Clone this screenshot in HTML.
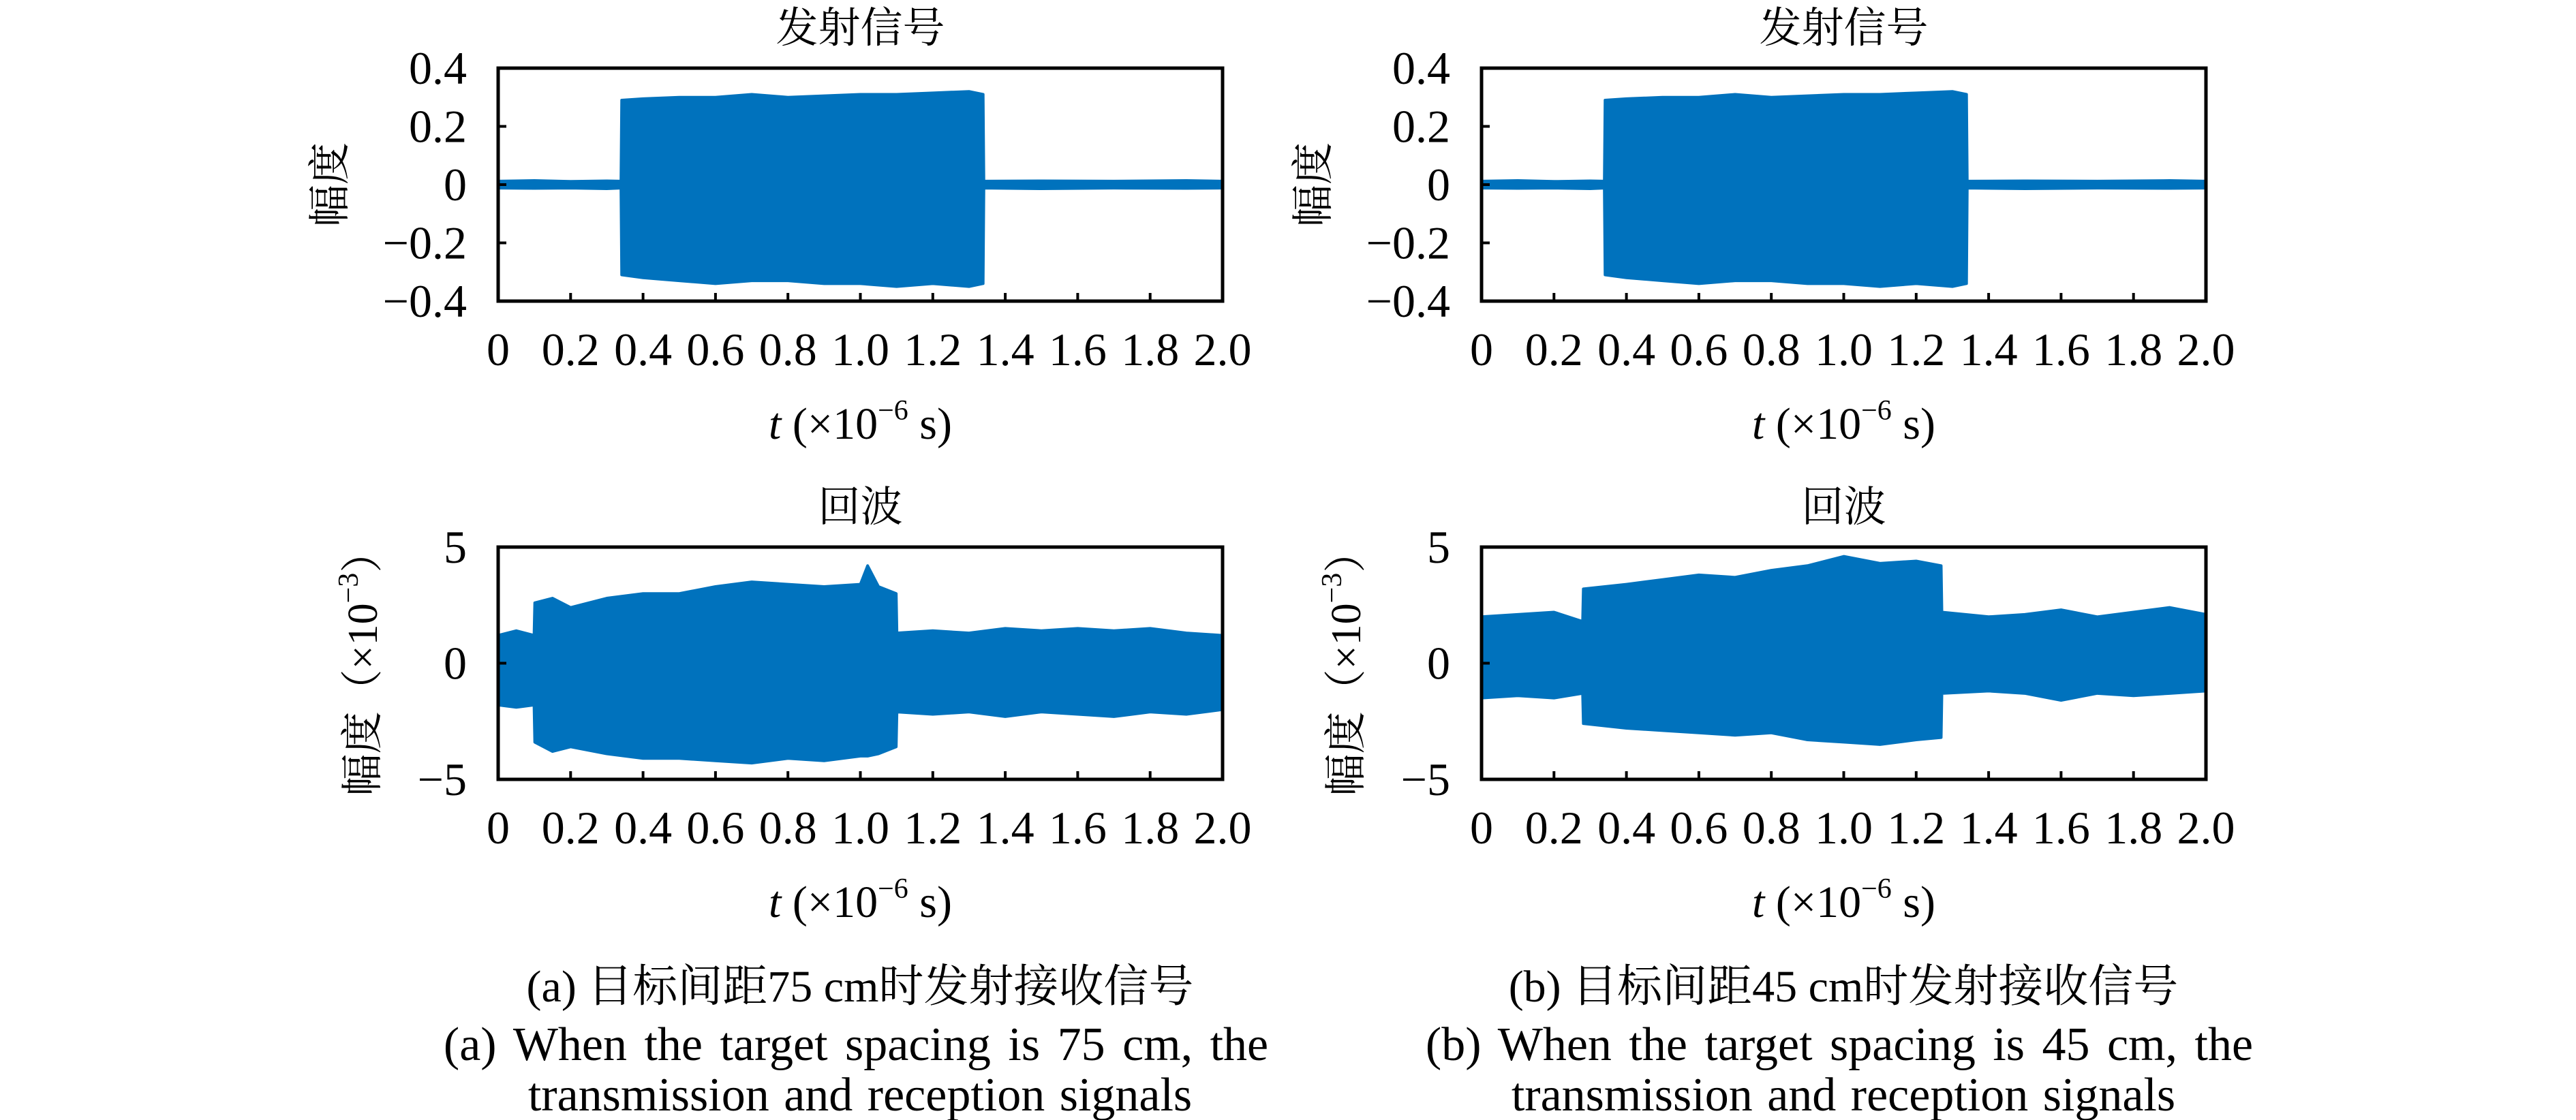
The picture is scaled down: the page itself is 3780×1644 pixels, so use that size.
<!DOCTYPE html>
<html><head><meta charset="utf-8"><style>
html,body{margin:0;padding:0;background:#fff}
svg{display:block}
text{font-family:"Liberation Serif","Noto Serif CJK SC",serif;fill:#000}
</style></head><body>
<svg id="fig" width="3780" height="1644" viewBox="0 0 3780 1644" xmlns="http://www.w3.org/2000/svg">
<text x="1262" y="1470" font-size="66" text-anchor="middle">(a) 目标间距75 cm时发射接收信号</text>
<text x="1256" y="1556" font-size="70" word-spacing="8" text-anchor="middle">(a) When the target spacing is 75 cm, the</text>
<text x="1262" y="1630" font-size="70" word-spacing="4" text-anchor="middle">transmission and reception signals</text>
<text x="2705" y="1470" font-size="66" text-anchor="middle">(b) 目标间距45 cm时发射接收信号</text>
<text x="2699" y="1556" font-size="70" word-spacing="8" text-anchor="middle">(b) When the target spacing is 45 cm, the</text>
<text x="2705" y="1630" font-size="70" word-spacing="4" text-anchor="middle">transmission and reception signals</text>
</svg>
<script>
const xTicks=[0,0.2,0.4,0.6,0.8,1.0,1.2,1.4,1.6,1.8,2.0];
const xTickLabels=["0","0.2","0.4","0.6","0.8","1.0","1.2","1.4","1.6","1.8","2.0"];
const yTicksTop=[-0.4,-0.2,0,0.2,0.4];
const yTickLabelsTop=["\u22120.4","\u22120.2","0","0.2","0.4"];
const yTicksBot=[-5,0,5];
const yTickLabelsBot=["\u22125","0","5"];

const tT=[0,0.1,0.2,0.3,0.339,0.341,0.4,0.5,0.6,0.7,0.8,0.9,1.0,1.1,1.2,1.3,1.339,1.341,1.5,1.7,1.9,2.0];
const upT=[0.012,0.014,0.011,0.013,0.012,0.29,0.295,0.30,0.30,0.31,0.30,0.305,0.31,0.31,0.315,0.32,0.31,0.012,0.013,0.012,0.014,0.012];
const loT=[-0.012,-0.013,-0.012,-0.014,-0.012,-0.31,-0.32,-0.33,-0.34,-0.33,-0.33,-0.34,-0.34,-0.35,-0.34,-0.35,-0.34,-0.012,-0.014,-0.012,-0.013,-0.012];

const tA=[0,0.05,0.099,0.101,0.15,0.2,0.3,0.4,0.5,0.6,0.7,0.8,0.9,1.0,1.02,1.05,1.099,1.101,1.2,1.3,1.4,1.5,1.6,1.7,1.8,1.9,2.0];
const upA=[1.2,1.4,1.2,2.6,2.8,2.4,2.8,3.0,3.0,3.3,3.5,3.4,3.3,3.4,4.2,3.3,3.0,1.3,1.4,1.3,1.5,1.4,1.5,1.4,1.5,1.3,1.2];
const loA=[-1.8,-1.9,-1.8,-3.4,-3.8,-3.6,-3.9,-4.1,-4.1,-4.2,-4.3,-4.1,-4.2,-4.0,-4.0,-3.9,-3.6,-2.1,-2.2,-2.1,-2.3,-2.1,-2.2,-2.3,-2.1,-2.2,-2.0];

const tB=[0,0.1,0.2,0.279,0.281,0.4,0.5,0.6,0.7,0.8,0.9,1.0,1.1,1.2,1.269,1.271,1.4,1.5,1.6,1.7,1.8,1.9,2.0];
const upB=[2.0,2.1,2.2,1.8,3.2,3.4,3.6,3.8,3.7,4.0,4.2,4.6,4.3,4.4,4.2,2.2,2.0,2.1,2.3,2.0,2.2,2.4,2.1];
const loB=[-1.5,-1.4,-1.5,-1.3,-2.6,-2.8,-2.9,-3.0,-3.1,-3.0,-3.3,-3.4,-3.5,-3.3,-3.2,-1.3,-1.2,-1.3,-1.6,-1.3,-1.4,-1.3,-1.2];

const NS="http://www.w3.org/2000/svg";
const svg=document.getElementById('fig');
function mk(tag,attrs,parent){const e=document.createElementNS(NS,tag);for(const k in attrs)e.setAttribute(k,attrs[k]);(parent||svg).appendChild(e);return e;}

function panel(p){
  const g=mk('g',{});
  
  
  const X=v=>p.x0+(v-0)/(2-0)*(p.x1-p.x0);
  const Y=v=>p.y1-(v-p.ymin)/(p.ymax-p.ymin)*(p.y1-p.y0);
  let d='M'+X(p.t[0])+','+Y(p.up[0]);
  for(let i=1;i<p.t.length;i++) d+=' L'+X(p.t[i])+','+Y(p.up[i]);
  for(let i=p.t.length-1;i>=0;i--) d+=' L'+X(p.t[i])+','+Y(p.lo[i]);
  d+=' Z';
  const s=mk('path',{d:d,fill:'#0072bd',stroke:'#0072bd','stroke-width':4,'stroke-linejoin':'round'},g);
  
  
  const f=mk('rect',{x:p.x0,y:p.y0,width:p.x1-p.x0,height:p.y1-p.y0,fill:'none',stroke:'#000','stroke-width':5},g);
  
  
  xTicks.forEach((v,i)=>{
    const tk=mk('line',{x1:X(v),x2:X(v),y1:p.y1,y2:p.y1-12,stroke:'#000','stroke-width':4},g);
    
    
    const tl=mk('text',{x:X(v),y:p.y1+94,'font-size':68,'text-anchor':'middle'},g);
    
    
    tl.textContent=xTickLabels[i];
  });
  p.yt.forEach((v,i)=>{
    const tk=mk('line',{x1:p.x0,x2:p.x0+12,y1:Y(v),y2:Y(v),stroke:'#000','stroke-width':4},g);
    
    
    const tl=mk('text',{x:p.x0-46,y:Y(v)+23,'font-size':68,'text-anchor':'end'},g);
    
    
    tl.textContent=p.ytl[i];
  });
  const cx=(p.x0+p.x1)/2;
  const ti=mk('text',{x:cx,y:p.y0-38,'font-size':62,'text-anchor':'middle'},g);
  
  
  ti.textContent=p.title;
  const xl=mk('text',{x:cx,y:p.y1+202,'font-size':66,'text-anchor':'middle'},g);
  
  
  xl.innerHTML='<tspan font-style="italic">t</tspan> (×10<tspan font-size="42" dy="-28">−6</tspan><tspan dy="28"> s)</tspan>';
  const yl=mk('text',{x:0,y:0,'font-size':62,'text-anchor':'middle',transform:'translate('+p.ylx+','+((p.y0+p.y1)/2)+') rotate(-90)'},g);
  
  
  yl.innerHTML=p.ylab;
}
const topLab='幅度';
const botLab='幅度（×10<tspan font-size="42" dy="-28">−3</tspan><tspan dy="28">）</tspan>';
panel({name:'panel-a-transmit',x0:731,x1:1794,y0:100,y1:442,ymin:-0.4,ymax:0.4,t:tT,up:upT,lo:loT,yt:yTicksTop,ytl:yTickLabelsTop,title:'发射信号',ylx:505,ylab:topLab});
panel({name:'panel-a-echo',x0:731,x1:1794,y0:803,y1:1144,ymin:-5,ymax:5,t:tA,up:upA,lo:loA,yt:yTicksBot,ytl:yTickLabelsBot,title:'回波',ylx:553,ylab:botLab});
panel({name:'panel-b-transmit',x0:2174,x1:3237,y0:100,y1:442,ymin:-0.4,ymax:0.4,t:tT,up:upT,lo:loT,yt:yTicksTop,ytl:yTickLabelsTop,title:'发射信号',ylx:1948,ylab:topLab});
panel({name:'panel-b-echo',x0:2174,x1:3237,y0:803,y1:1144,ymin:-5,ymax:5,t:tB,up:upB,lo:loB,yt:yTicksBot,ytl:yTickLabelsBot,title:'回波',ylx:1996,ylab:botLab});
</script>
</body></html>
